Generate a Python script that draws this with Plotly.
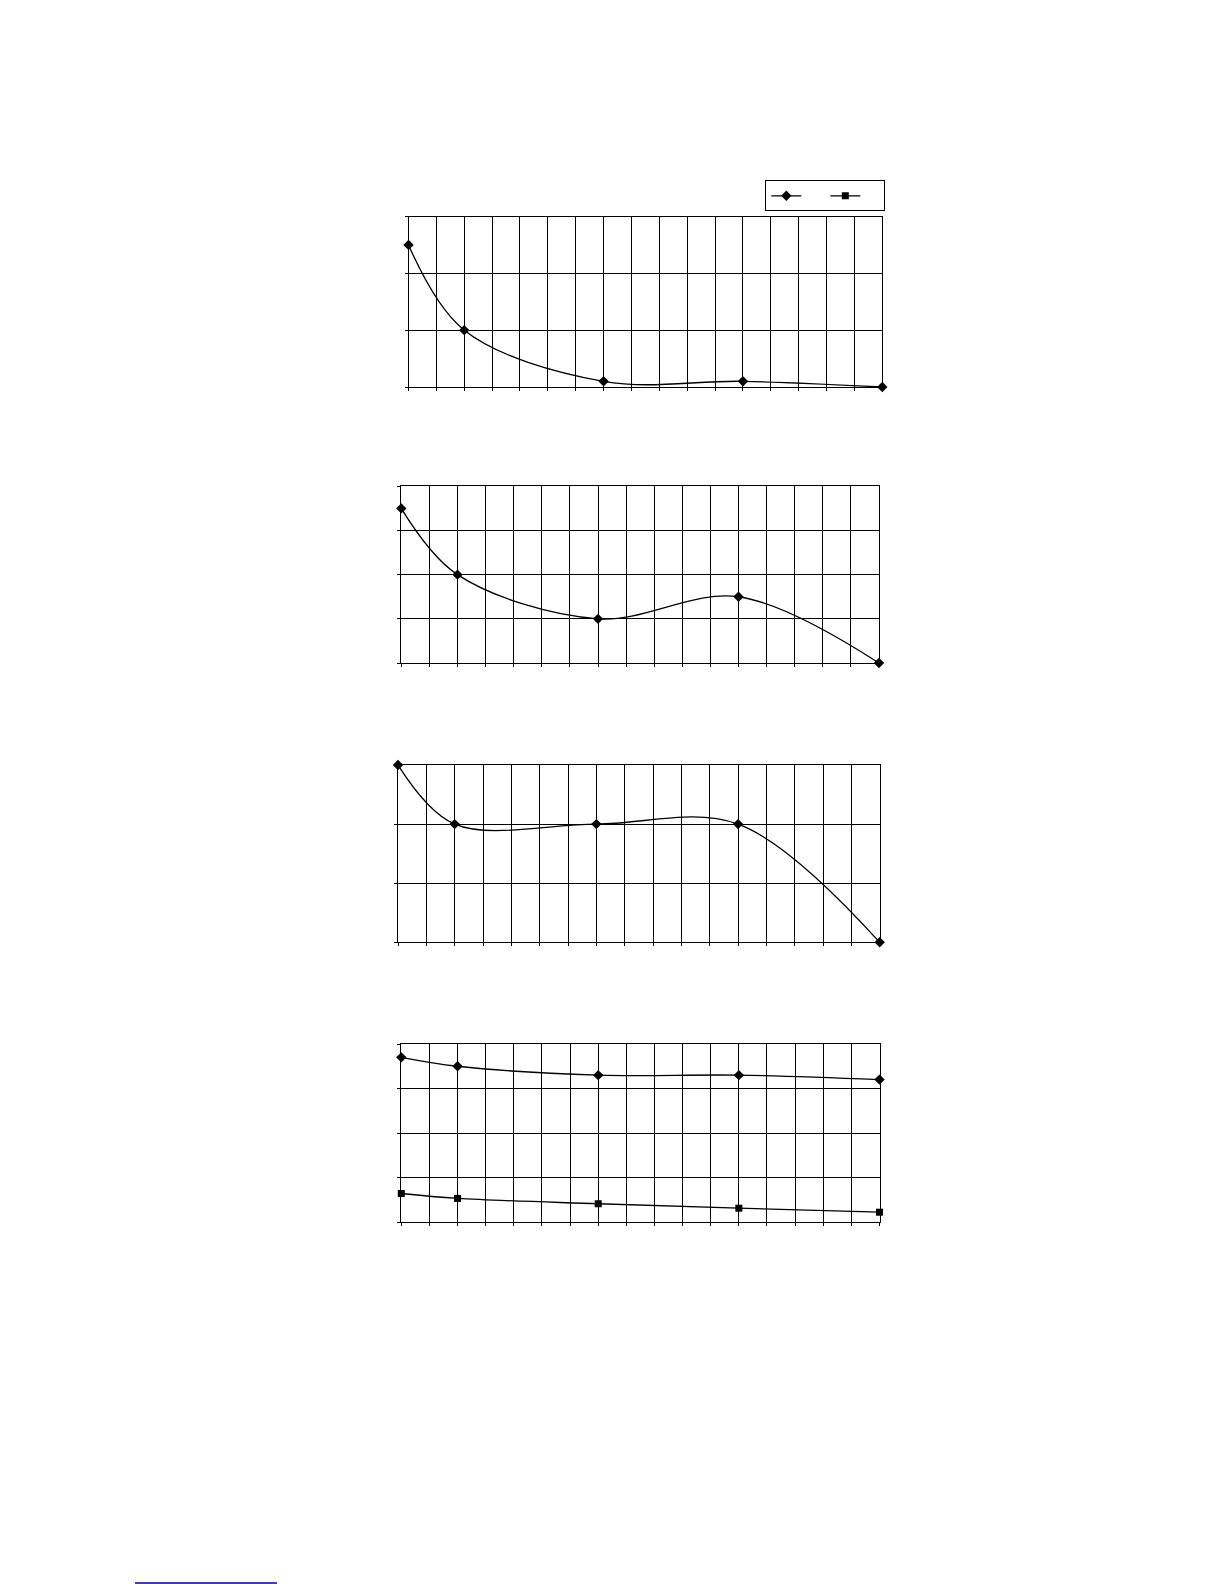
import plotly.graph_objects as go

W, H = 1224, 1584

# Data
x_vals = [0, 2, 7, 12, 17]
panel1_s1 = [2.5, 1.0, 0.1, 0.1, 0.0]
panel2_s1 = [3.5, 2.0, 1.0, 1.5, 0.0]
panel3_s1 = [3.0, 2.0, 2.0, 2.0, 0.0]
panel4_s1 = [3.7, 3.5, 3.3, 3.3, 3.2]
panel4_s2 = [0.64, 0.53, 0.41, 0.31, 0.22]
series_names = ["", ""]

# Panel geometry in pixels: (left, right, top, bottom), y range
panels = [
    ((400.5, 874.3, 208.5, 379.0), 3),
    ((393.3, 871.0, 478.3, 655.0), 4),
    ((390.0, 871.7, 757.0, 934.3), 3),
    ((393.3, 871.5, 1036.0, 1214.0), 4),
]

fig = go.Figure()

def add_line(idx, y, symbol, name, showlegend, msize):
    suffix = "" if idx == 1 else str(idx)
    fig.add_trace(go.Scatter(
        x=x_vals, y=y, mode="lines+markers",
        name=name, showlegend=showlegend,
        line=dict(color="black", width=1.3, shape="spline", smoothing=1.0),
        marker=dict(symbol=symbol, size=msize, color="black"),
        cliponaxis=False,
        xaxis="x" + suffix, yaxis="y" + suffix,
    ))

add_line(1, panel1_s1, "diamond", series_names[0], False, 8)
add_line(2, panel2_s1, "diamond", series_names[0], False, 8)
add_line(3, panel3_s1, "diamond", series_names[0], False, 8)
add_line(4, panel4_s1, "diamond", series_names[0], True, 8)
add_line(4, panel4_s2, "square", series_names[1], True, 7)

layout = dict(
    width=W, height=H,
    paper_bgcolor="white", plot_bgcolor="white",
    margin=dict(l=0, r=0, t=0, b=0),
    showlegend=True,
    legend=dict(
        orientation="h",
        x=757.3 / W, y=1 - 172.3 / H, xanchor="left", yanchor="top",
        bordercolor="black", borderwidth=1, bgcolor="white",
        font=dict(size=6, color="black", family="Liberation Sans"),
        entrywidth=14, entrywidthmode="pixels",
        itemwidth=30, tracegroupgap=0,
    ),
    shapes=[dict(type="line", xref="paper", yref="paper",
                 x0=127 / W, x1=269 / W, y0=1 - 1575 / H, y1=1 - 1575 / H,
                 line=dict(color="#000099", width=1.5))],
)

for i, ((l, r, t, b), ymax) in enumerate(panels, start=1):
    suffix = "" if i == 1 else str(i)
    layout["xaxis" + suffix] = dict(
        domain=[l / W, r / W], anchor="y" + suffix,
        range=[0, 17], dtick=1, tick0=0,
        showgrid=True, gridcolor="black", gridwidth=1,
        showline=True, linecolor="black", linewidth=1, mirror=True,
        ticks="outside", ticklen=3, tickcolor="black", tickwidth=1,
        showticklabels=False, zeroline=False, fixedrange=True,
    )
    layout["yaxis" + suffix] = dict(
        domain=[1 - b / H, 1 - t / H], anchor="x" + suffix,
        range=[0, ymax], dtick=1, tick0=0,
        showgrid=True, gridcolor="black", gridwidth=1,
        showline=True, linecolor="black", linewidth=1, mirror=True,
        ticks="outside", ticklen=3, tickcolor="black", tickwidth=1,
        showticklabels=False, zeroline=False, fixedrange=True,
    )

fig.update_layout(**layout)
fig.write_html("out.html")
